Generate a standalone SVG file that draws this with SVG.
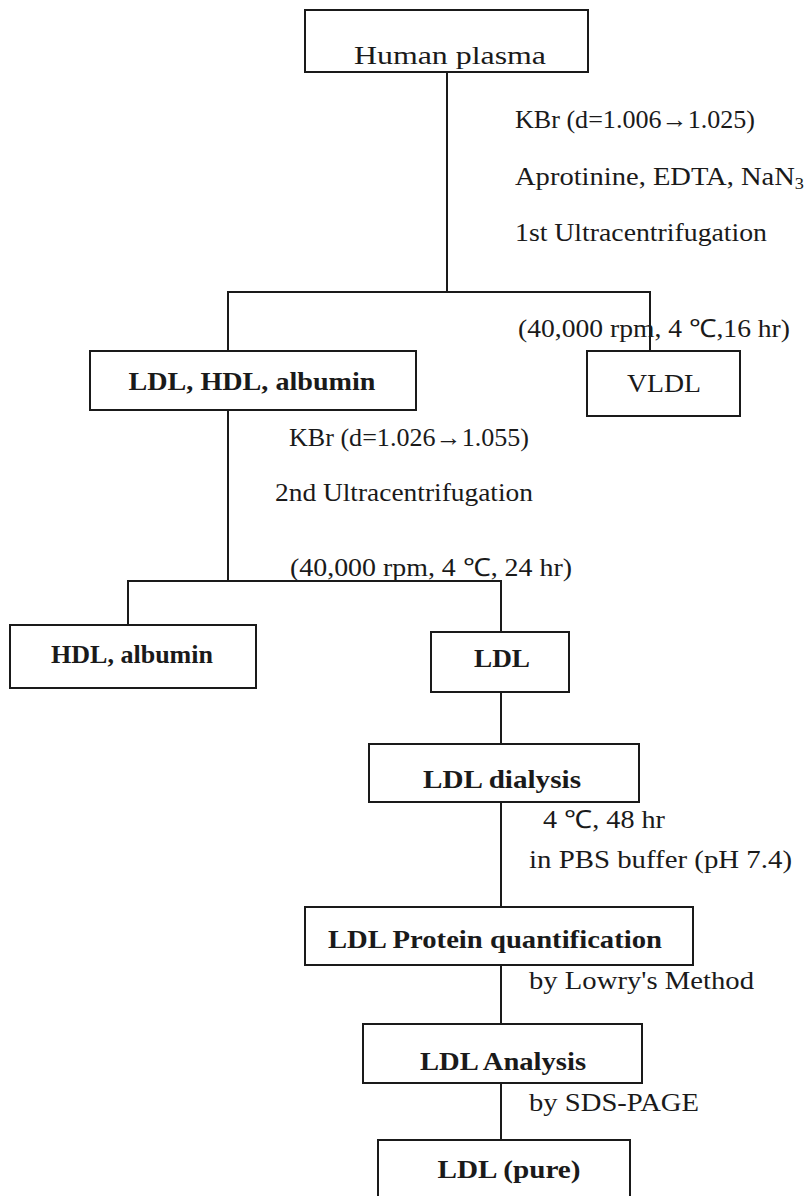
<svg xmlns="http://www.w3.org/2000/svg" width="804" height="1196" viewBox="0 0 804 1196">
  <style>
    .box { fill: #fff; stroke: #1a1a1a; stroke-width: 2; }
    .wire { fill: none; stroke: #1a1a1a; stroke-width: 2; }
    .lbl { font-family: "Liberation Serif", "Times New Roman", serif; font-size: 25px; font-weight: bold; fill: #1a1a1a; text-anchor: middle; }
    .lbl.reg { font-weight: normal; }
    .note { font-family: "Liberation Serif", "Times New Roman", serif; font-size: 25px; fill: #1a1a1a; }
  </style>
  <rect width="804" height="1196" fill="#fff"/>

  <!-- connectors -->
  <g id="connectors" class="wire">
    <path d="M447 72 V292"/>
    <path d="M228 351 V292 H650 V351"/>
    <path d="M228 410 V581"/>
    <path d="M128 625 V581 H501 V632"/>
    <path d="M501 692 V744"/>
    <path d="M501 802 V907"/>
    <path d="M501 965 V1024"/>
    <path d="M501 1083 V1140"/>
  </g>

  <!-- step conditions -->
  <g id="notes" class="note">
    <text x="515" y="128" textLength="240" lengthAdjust="spacingAndGlyphs">KBr  (d=1.006→1.025)</text>
    <text x="515" y="185" textLength="289" lengthAdjust="spacingAndGlyphs">Aprotinine, EDTA, NaN<tspan font-size="16" dy="4">3</tspan></text>
    <text x="515" y="241" textLength="252" lengthAdjust="spacingAndGlyphs">1st  Ultracentrifugation</text>
    <text x="518" y="337" textLength="272" lengthAdjust="spacingAndGlyphs">(40,000 rpm, 4 ℃,16 hr)</text>
    <text x="289" y="446" textLength="240" lengthAdjust="spacingAndGlyphs">KBr  (d=1.026→1.055)</text>
    <text x="275" y="501" textLength="258" lengthAdjust="spacingAndGlyphs">2nd  Ultracentrifugation</text>
    <text x="290" y="576" textLength="282" lengthAdjust="spacingAndGlyphs">(40,000 rpm, 4 ℃, 24 hr)</text>
    <text x="543" y="828" textLength="122" lengthAdjust="spacingAndGlyphs">4 ℃, 48 hr</text>
    <text x="529" y="868" textLength="263" lengthAdjust="spacingAndGlyphs">in PBS buffer (pH 7.4)</text>
    <text x="529" y="989" textLength="225" lengthAdjust="spacingAndGlyphs">by Lowry's Method</text>
    <text x="529" y="1111" textLength="170" lengthAdjust="spacingAndGlyphs">by SDS-PAGE</text>
  </g>

  <g id="human-plasma">
    <rect class="box" x="305" y="10" width="283" height="62"/>
    <text class="lbl reg" x="450" y="64" textLength="192" lengthAdjust="spacingAndGlyphs">Human plasma</text>
  </g>
  <g id="ldl-hdl-albumin">
    <rect class="box" x="90" y="351" width="326" height="59"/>
    <text class="lbl" x="252" y="390" textLength="247" lengthAdjust="spacingAndGlyphs">LDL, HDL, albumin</text>
  </g>
  <g id="vldl">
    <rect class="box" x="587" y="351" width="153" height="65"/>
    <text class="lbl reg" x="664" y="392" textLength="74" lengthAdjust="spacingAndGlyphs">VLDL</text>
  </g>
  <g id="hdl-albumin">
    <rect class="box" x="10" y="625" width="246" height="63"/>
    <text class="lbl" x="132" y="663" textLength="162" lengthAdjust="spacingAndGlyphs">HDL, albumin</text>
  </g>
  <g id="ldl">
    <rect class="box" x="431" y="632" width="138" height="60"/>
    <text class="lbl" x="502" y="667" textLength="56" lengthAdjust="spacingAndGlyphs">LDL</text>
  </g>
  <g id="ldl-dialysis">
    <rect class="box" x="369" y="744" width="270" height="58"/>
    <text class="lbl" x="502" y="788" textLength="158" lengthAdjust="spacingAndGlyphs">LDL dialysis</text>
  </g>
  <g id="ldl-protein-quantification">
    <rect class="box" x="305" y="907" width="388" height="58"/>
    <text class="lbl" x="495" y="948" textLength="334" lengthAdjust="spacingAndGlyphs">LDL Protein quantification</text>
  </g>
  <g id="ldl-analysis">
    <rect class="box" x="363" y="1024" width="279" height="59"/>
    <text class="lbl" x="503" y="1070" textLength="166" lengthAdjust="spacingAndGlyphs">LDL Analysis</text>
  </g>
  <g id="ldl-pure">
    <rect class="box" x="378" y="1140" width="252" height="70"/>
    <text class="lbl" x="509" y="1178" textLength="143" lengthAdjust="spacingAndGlyphs">LDL (pure)</text>
  </g>
</svg>
